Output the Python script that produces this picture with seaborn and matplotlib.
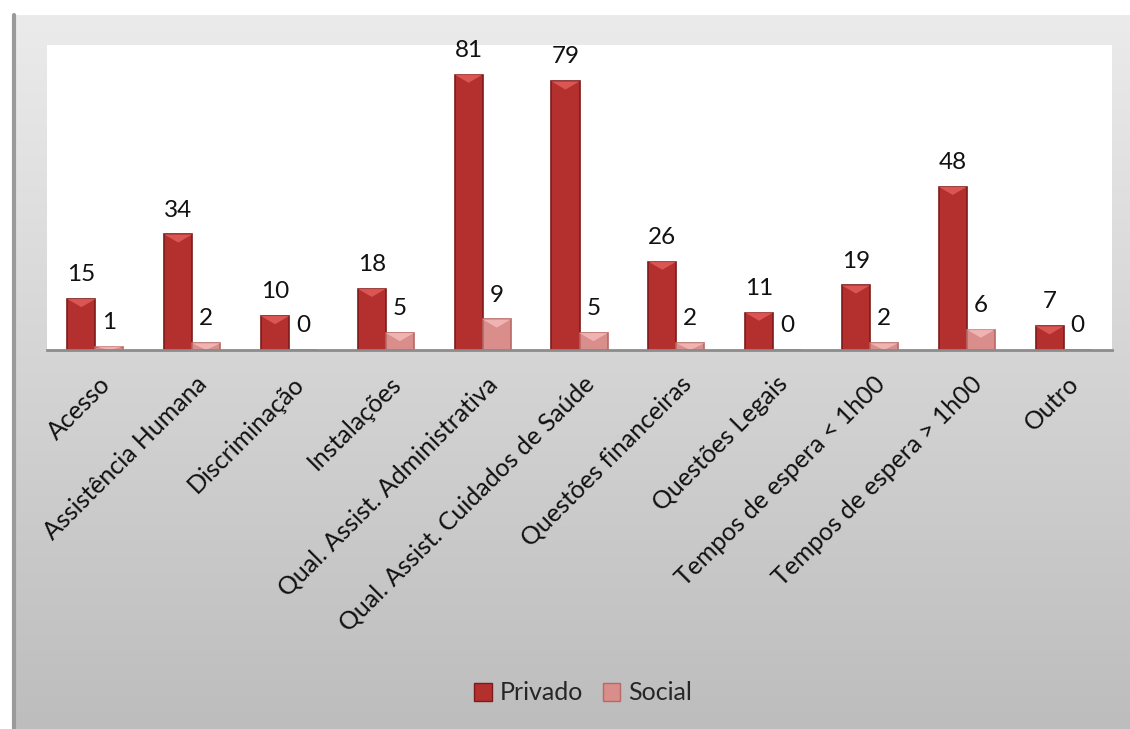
import matplotlib
matplotlib.use("Agg")
import matplotlib.pyplot as plt
import matplotlib.transforms as mtransforms
import numpy as np
import pandas as pd
import seaborn as sns
from matplotlib.patches import Polygon, Patch

categories = [
    "Acesso", "Assistência Humana", "Discriminação", "Instalações",
    "Qual. Assist. Administrativa", "Qual. Assist. Cuidados de Saúde",
    "Questões financeiras", "Questões Legais", "Tempos de espera < 1h00",
    "Tempos de espera > 1h00", "Outro",
]
privado = [15, 34, 10, 18, 81, 79, 26, 11, 19, 48, 7]
social = [1, 2, 0, 5, 9, 5, 2, 0, 2, 6, 0]
series = ["Privado", "Social"]

colors = {"Privado": "#b3302f", "Social": "#d98e8c"}
edge_colors = {"Privado": "#7e1b1a", "Social": "#b86866"}
cap_colors = {"Privado": "#e05a57", "Social": "#f2b9b7"}

df = pd.DataFrame({
    "categoria": categories * 2,
    "valor": privado + social,
    "serie": ["Privado"] * len(categories) + ["Social"] * len(categories),
})

sns.set_theme(style="white")
plt.rcParams["font.family"] = ["Lato", "DejaVu Sans"]

W, H = 1130, 729
fig = plt.figure(figsize=(W / 100, H / 100), dpi=100)
fig.patch.set_facecolor("white")

# gradient panel behind the chart
bg = fig.add_axes([13 / W, 0, 1 - 13 / W, 1 - 15 / H], zorder=0)
grad = np.linspace(0, 1, 256).reshape(-1, 1)
bg.imshow(grad, aspect="auto", cmap=matplotlib.colors.LinearSegmentedColormap.from_list(
    "g", ["#ebebeb", "#bdbdbd"]), extent=[0, 1, 0, 1], origin="upper")
bg.set_axis_off()
# dark left border of the panel
fig.add_artist(plt.Line2D([13.5 / W, 13.5 / W], [0, 1 - 15 / H], color="#9a9a9a", lw=3,
                          transform=fig.transFigure, zorder=1))

ax = fig.add_axes([47 / W, 1 - 350 / H, (1112 - 47) / W, (350 - 45) / H], zorder=2)
ax.set_facecolor("white")

sns.barplot(data=df, x="categoria", y="valor", hue="serie", order=categories,
            hue_order=series, palette=colors, width=0.58, gap=0, dodge=True,
            legend=False, ax=ax, saturation=1)

ax.set_xlim(-0.5, len(categories) - 0.5)
ax.set_ylim(0, 89.7)

# bevelled look and value labels for each bar
for container, name in zip(ax.containers, series):
    for bar, val in zip(container, (privado if name == "Privado" else social)):
        bar.set_edgecolor(edge_colors[name])
        bar.set_linewidth(1.2)
        x0, w, h = bar.get_x(), bar.get_width(), bar.get_height()
        if h > 0:
            cap_h = min(2.4, h)
            tri = Polygon([[x0, h], [x0 + w, h], [x0 + w * 0.5, h - cap_h]],
                          closed=True, facecolor=cap_colors[name], edgecolor="none",
                          alpha=0.9, zorder=bar.get_zorder() + 0.1)
            ax.add_patch(tri)
        ax.annotate(f"{val}", (x0 + w / 2, h), xytext=(0, 10), textcoords="offset points",
                    ha="center", va="bottom", fontsize=17.5, color="#111111")

for s in ["top", "right", "left"]:
    ax.spines[s].set_visible(False)
ax.spines["bottom"].set_color("#8c8c8c")
ax.spines["bottom"].set_linewidth(2)
ax.set_yticks([])
ax.set_xlabel("")
ax.set_ylabel("")
ax.tick_params(axis="x", length=0, pad=16)
ax.set_xticks(range(len(categories)))
ax.set_xticklabels(categories, rotation=45, ha="right", rotation_mode="anchor",
                   fontsize=18, color="#111111")
shift = mtransforms.ScaledTranslation(3 / 100, 0, fig.dpi_scale_trans)
for lbl in ax.get_xticklabels():
    lbl.set_transform(lbl.get_transform() + shift)

handles = [Patch(facecolor=colors[s], edgecolor=edge_colors[s]) for s in series]
fig.legend(handles, series, loc="center", bbox_to_anchor=(583 / W, 1 - 693 / H),
           ncol=2, frameon=False, fontsize=18, handlelength=0.7, handleheight=0.7,
           handletextpad=0.3, columnspacing=0.8)

fig.savefig("out.png", dpi=100, facecolor="white")
